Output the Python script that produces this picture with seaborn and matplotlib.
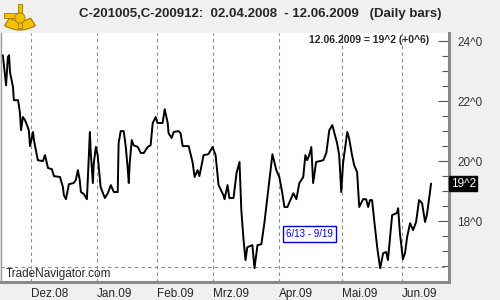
import matplotlib
matplotlib.use("Agg")
import matplotlib.pyplot as plt
from matplotlib.patches import Wedge, Circle, Rectangle
from matplotlib.transforms import IdentityTransform
import seaborn as sns
import pandas as pd

# trading-day index (0 = first trading day of Dec 2008) and spread value
days = [-9.4, -8.3, -7.7, -7.3, -7.0, -6.0, -5.7, -4.3, -3.7, -3.3, -2.7, -2.0, -1.3, -0.7, -0.3,
        0.7, 1.0, 2.3, 4.0, 4.7, 5.7, 7.0, 7.7, 9.7, 10.7, 11.0, 11.7, 12.7, 14.3, 15.0, 15.7, 16.3,
        16.7, 17.7, 18.7, 19.0, 19.7, 20.0, 20.7, 21.0, 21.7, 22.3, 23.3, 24.7, 25.7, 26.7, 27.7,
        29.0, 29.3, 30.0, 31.0, 31.7, 32.3, 32.7, 33.0, 33.7, 34.3, 35.7, 36.7, 37.7, 39.0, 40.0,
        40.7, 41.7, 42.3, 44.0, 44.7, 45.7, 46.0, 47.0, 47.7, 49.3, 50.0, 50.7, 52.7, 54.0, 54.7,
        55.7, 56.3, 57.7, 59.3, 60.7, 61.7, 62.7, 64.3, 64.7, 65.7, 66.3, 67.7, 68.7, 69.7, 70.3,
        71.0, 71.7, 72.3, 74.0, 74.7, 75.7, 77.0, 78.0, 79.3, 80.7, 82.0, 83.0, 84.0, 84.7, 85.7,
        87.7, 88.7, 89.7, 91.0, 91.7, 92.3, 93.0, 93.7, 94.3, 95.3, 97.7, 98.7, 99.7, 100.7, 101.3,
        102.3, 103.0, 103.7, 104.3, 105.7, 106.3, 107.3, 108.0, 109.0, 109.7, 111.0, 112.0, 112.7,
        113.3, 114.0, 114.7, 115.7, 116.7, 117.7, 118.7, 119.3, 120.0, 120.7, 122.3, 122.7, 123.3,
        124.3, 125.0, 125.7, 126.7, 127.7, 128.7, 129.7, 130.7, 131.7, 132.3, 133.3, 133.7]
values = [23.53, 22.53, 23.47, 23.53, 22.97, 22.47, 22.03, 22.03, 21.63, 21.03, 21.47, 21.37, 21.2,
          21.03, 20.5, 20.97, 20.7, 20.03, 20.0, 20.2, 19.77, 19.73, 19.5, 19.47, 19.13, 18.87,
          18.73, 19.23, 19.27, 19.37, 19.7, 19.37, 18.97, 18.9, 18.73, 19.37, 20.97, 20.27, 19.27,
          19.93, 20.47, 20.2, 19.13, 18.77, 18.93, 19.2, 18.97, 18.97, 20.6, 21.0, 21.0, 20.47,
          19.8, 19.27, 19.93, 20.7, 20.53, 20.47, 20.27, 20.27, 20.47, 20.53, 21.27, 21.47, 21.27,
          21.27, 21.73, 21.27, 20.93, 20.77, 20.97, 21.0, 20.93, 20.5, 20.5, 19.97, 19.47, 19.7,
          19.5, 20.2, 20.23, 20.47, 20.2, 19.2, 18.87, 18.73, 19.2, 18.77, 18.77, 19.6, 19.97,
          18.37, 17.43, 16.7, 17.13, 17.2, 16.43, 17.2, 17.23, 17.93, 19.03, 20.23, 19.7, 19.47,
          18.93, 18.47, 18.47, 18.93, 18.73, 19.27, 19.47, 20.2, 20.03, 20.2, 20.47, 19.27, 19.97,
          20.03, 20.27, 21.03, 21.2, 20.97, 20.6, 20.2, 18.97, 19.93, 20.97, 20.77, 20.2, 19.87,
          19.63, 18.47, 18.73, 18.73, 18.47, 18.7, 18.7, 18.03, 17.13, 16.43, 16.93, 16.97, 16.7,
          17.47, 18.2, 18.27, 18.43, 17.6, 16.73, 16.93, 17.47, 17.93, 17.7, 17.97, 18.7, 18.6,
          17.97, 18.2, 18.93, 19.25]

month_starts = [0, 22, 42, 61, 83, 104, 124]
month_labels = ["Dez.08", "Jan.09", "Feb.09", "Mrz.09", "Apr.09", "Mai.09", "Jun.09"]
ytick_vals = [18, 20, 22, 24]
ytick_labels = ["18^0", "20^0", "22^0", "24^0"]
minor_vals = [16.5, 17.0, 17.5, 18.5, 19.0, 19.5, 20.5, 21.0, 21.5, 22.5, 23.0, 23.5]
title = "C-201005,C-200912:  02.04.2008  - 12.06.2009   (Daily bars)"
last_info = "12.06.2009 = 19^2 (+0^6)"
last_label = "19^2"
last_value = 19.25
note = "6/13 - 9/19"
note_day = 85.3
note_value = 17.58
brand = "TradeNavigator.com"
ref_level = 16.47

sns.set_theme(style="white")
plt.rcParams['font.family'] = ['Liberation Sans', 'DejaVu Sans']

fig = plt.figure(figsize=(5, 3), dpi=100, facecolor="#f0f0f0")
ax = fig.add_axes([0.002, 0.06, 0.896, 0.83])
ax.set_facecolor("white")

df = pd.DataFrame({"day": days, "value": values})
sns.lineplot(data=df, x="day", y="value", ax=ax, color="black", linewidth=1.4,
             estimator=None, sort=False)

ax.set_xlim(-10, 139.7)
ax.set_ylim(15.97, 24.27)

for m in month_starts:
    ax.axvline(m, color="#8a8a8a", linestyle=(0, (3, 3)), linewidth=0.8, zorder=0)
ax.axhline(ref_level, color="#8a8a8a", linestyle=(0, (3, 3)), linewidth=0.8, zorder=0)

ax.set_xticks(month_starts)
ax.set_xticklabels(month_labels, ha="left", fontsize=8.5)
ax.tick_params(axis="x", length=0, pad=4)
ax.yaxis.tick_right()
ax.set_yticks(ytick_vals)
ax.set_yticklabels(ytick_labels, fontsize=8.5, color="#333333")
ax.set_yticks(minor_vals, minor=True)
ax.tick_params(axis="y", which="major", direction="in", length=8, width=0.8,
               color="#555555", pad=6, right=True, left=False)
ax.tick_params(axis="y", which="minor", direction="in", length=5, width=0.8,
               color="#555555", right=True, left=False)
ax.set_xlabel("")
ax.set_ylabel("")

ax.spines["top"].set_visible(False)
ax.spines["left"].set_color("#9a9a9a")
ax.spines["left"].set_linewidth(1.0)
ax.spines["right"].set_color("#8a8a8a")
ax.spines["right"].set_linewidth(2.2)
ax.spines["bottom"].set_color("#8a8a8a")
ax.spines["bottom"].set_linewidth(2.2)

fig.text(0.52, 0.955, title, ha="center", va="center", fontsize=9.5, fontweight="bold")
ax.text(0.955, 0.99, last_info, transform=ax.transAxes, ha="right", va="top",
        fontsize=7.5, fontweight="bold")
ax.text(1.004, last_value, last_label, transform=ax.get_yaxis_transform(), ha="left",
        va="center", fontsize=8.5, color="white",
        bbox=dict(boxstyle="square,pad=0.12", facecolor="black", edgecolor="black"))
ax.text(0.01, 0.01, brand, transform=ax.transAxes, ha="left", va="bottom", fontsize=8.5)
ax.text(note_day, note_value, note, ha="left", va="center", fontsize=7, color="#0000dd",
        bbox=dict(boxstyle="square,pad=0.3", facecolor="white", edgecolor="#0000dd",
                  linewidth=1.0))

# simple golden sextant emblem (decoration, top-left), in pixel coordinates
gold, dark = "#f2c200", "#a07800"
ident = IdentityTransform()
fig.patches.append(Wedge((20, 299), 29, 238, 302, width=9, transform=ident,
                         facecolor=gold, edgecolor=dark, linewidth=0.8))
fig.patches.append(Rectangle((4, 282), 15, 5, transform=ident,
                             facecolor=gold, edgecolor=dark, linewidth=0.6))
fig.patches.append(Rectangle((18, 272), 4, 24, transform=ident,
                             facecolor=gold, edgecolor=dark, linewidth=0.6))
fig.patches.append(Circle((20, 282), 5, transform=ident,
                          facecolor=gold, edgecolor=dark, linewidth=0.6))

fig.savefig("out.png", dpi=100, facecolor=fig.get_facecolor())
